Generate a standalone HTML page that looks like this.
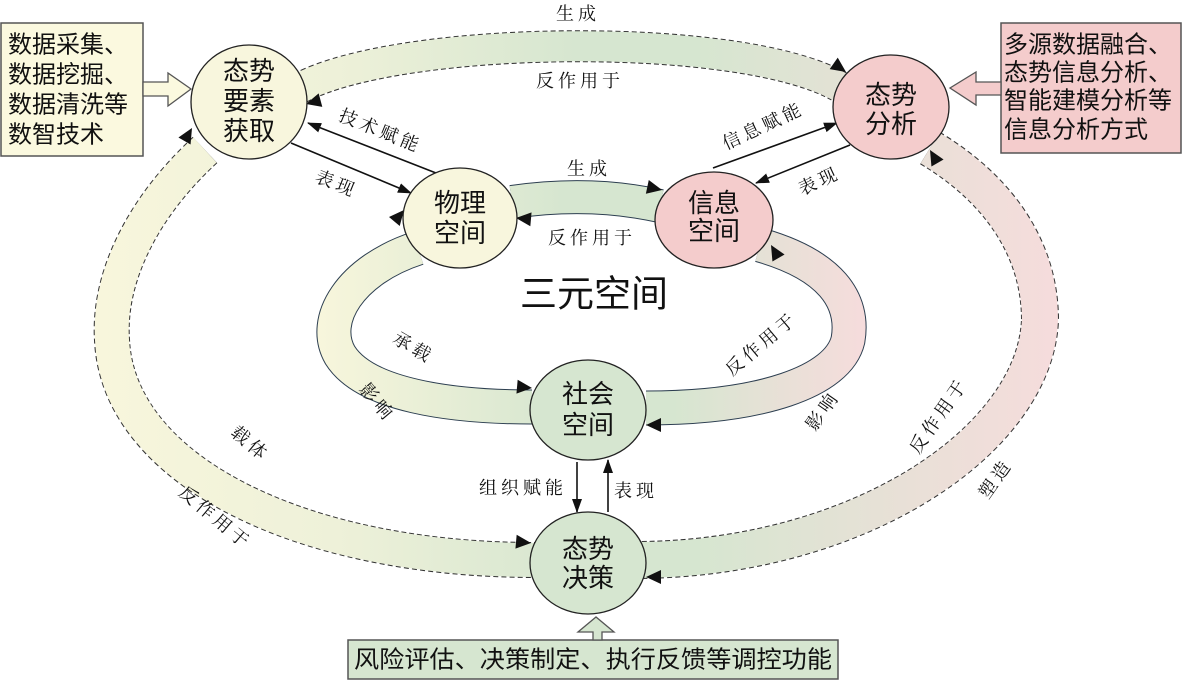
<!DOCTYPE html>
<html><head><meta charset="utf-8"><style>
html,body{margin:0;padding:0;background:#fff;}
svg{display:block;}
text{font-family:"Liberation Sans","Noto Sans CJK SC",sans-serif;fill:#111;}
.c{font-size:26px;text-anchor:middle;dominant-baseline:central;}
.b{font-size:24px;dominant-baseline:central;}
.l{font-size:18px;text-anchor:middle;dominant-baseline:central;letter-spacing:4px;font-family:"Noto Serif CJK SC","Noto Sans CJK SC",serif;}
</style></head><body>
<svg width="1182" height="681" viewBox="0 0 1182 681" xmlns="http://www.w3.org/2000/svg">
<defs>
<linearGradient id="go" gradientUnits="userSpaceOnUse" x1="95" y1="0" x2="1060" y2="0">
<stop offset="0" stop-color="#f8f6dc"/><stop offset="0.25" stop-color="#eef1d9"/><stop offset="0.5" stop-color="#d6e6d0"/><stop offset="0.62" stop-color="#d6e6d0"/><stop offset="1" stop-color="#f6dcdc"/>
</linearGradient>
<linearGradient id="gi" gradientUnits="userSpaceOnUse" x1="316" y1="0" x2="865" y2="0">
<stop offset="0" stop-color="#f8f6dc"/><stop offset="0.45" stop-color="#d6e6d0"/><stop offset="0.65" stop-color="#d6e6d0"/><stop offset="1" stop-color="#f6dcdc"/>
</linearGradient>
<marker id="ar" markerWidth="14" markerHeight="10" refX="13" refY="5" orient="auto" markerUnits="userSpaceOnUse">
<polygon points="0,0 14,5 0,10" fill="#111"/></marker>
</defs>

<g fill="none">
<path d="M 300 88 C 400 35, 740 30, 840 87" stroke="#333" stroke-width="32" stroke-dasharray="5 3"/>
<path d="M 300 88 C 400 35, 740 30, 840 87" stroke="url(#go)" stroke-width="30"/>
<path d="M 205 150 C 140 210, 108 280, 112 340 C 118 470, 300 560, 535 560" stroke="#333" stroke-width="36" stroke-dasharray="5 3"/>
<path d="M 205 150 C 140 210, 108 280, 112 340 C 118 470, 300 560, 535 560" stroke="url(#go)" stroke-width="34"/>
<path d="M 930 148 C 1000 190, 1040 250, 1040 320 C 1035 440, 860 558, 640 560" stroke="#333" stroke-width="38" stroke-dasharray="5 3"/>
<path d="M 930 148 C 1000 190, 1040 250, 1040 320 C 1035 440, 860 558, 640 560" stroke="url(#go)" stroke-width="36"/>
<path d="M 512 202 C 560 195, 610 195, 660 206" stroke="#2c3e50" stroke-width="34"/>
<path d="M 512 202 C 560 195, 610 195, 660 206" stroke="url(#gi)" stroke-width="32"/>
<path d="M 418 248 C 350 270, 320 320, 340 355 C 365 395, 450 407, 532 407" stroke="#2c3e50" stroke-width="35"/>
<path d="M 418 248 C 350 270, 320 320, 340 355 C 365 395, 450 407, 532 407" stroke="url(#gi)" stroke-width="33"/>
<path d="M 760 245 C 830 265, 855 300, 848 340 C 838 382, 760 408, 646 408" stroke="#2c3e50" stroke-width="35"/>
<path d="M 760 245 C 830 265, 855 300, 848 340 C 838 382, 760 408, 646 408" stroke="url(#gi)" stroke-width="33"/>
</g>

<g stroke="#111" stroke-width="1.6" fill="none">
<line x1="436" y1="173" x2="308" y2="123" marker-end="url(#ar)"/>
<line x1="291" y1="143" x2="411" y2="193" marker-end="url(#ar)"/>
<line x1="713" y1="168" x2="837" y2="123" marker-end="url(#ar)"/>
<line x1="850" y1="145" x2="756" y2="183" marker-end="url(#ar)"/>
<line x1="577" y1="462" x2="577" y2="512" marker-end="url(#ar)"/>
<line x1="608" y1="512" x2="608" y2="460" marker-end="url(#ar)"/>
</g>

<g fill="#111">
<polygon points="0,0 -15,-7 -15,7" transform="translate(846,72) rotate(35)"/>
<polygon points="0,0 -15,-7 -15,7" transform="translate(306,104) rotate(165)"/>
<polygon points="0,0 -15,-7 -15,7" transform="translate(192,128) rotate(-60)"/>
<polygon points="0,0 -15,-7 -15,7" transform="translate(531,543) rotate(5)"/>
<polygon points="0,0 -15,-7 -15,7" transform="translate(930,150) rotate(-120)"/>
<polygon points="0,0 -15,-7 -15,7" transform="translate(646,577) rotate(180)"/>
<polygon points="0,0 -15,-7 -15,7" transform="translate(662,190) rotate(12)"/>
<polygon points="0,0 -15,-7 -15,7" transform="translate(516,218) rotate(185)"/>
<polygon points="0,0 -15,-7 -15,7" transform="translate(404,210) rotate(-50)"/>
<polygon points="0,0 -15,-7 -15,7" transform="translate(532,388) rotate(5)"/>
<polygon points="0,0 -15,-7 -15,7" transform="translate(771,245) rotate(-120)"/>
<polygon points="0,0 -15,-7 -15,7" transform="translate(646,425) rotate(180)"/>
</g>

<rect x="1" y="23" width="142" height="133" fill="#fbf9df" stroke="#555" stroke-width="1.5"/>
<polygon points="143,82 168,82 168,73 191,89 168,106 168,96 143,96" fill="#fbf9df" stroke="#555" stroke-width="1.3"/>
<rect x="1001" y="23" width="180" height="130" fill="#f4cccc" stroke="#555" stroke-width="1.5"/>
<polygon points="1001,82 976,82 976,72 950,88 976,105 976,95 1001,95" fill="#f4cccc" stroke="#555" stroke-width="1.3"/>
<rect x="348" y="640" width="490" height="39" fill="#d6e6d0" stroke="#555" stroke-width="1.5"/>
<polygon points="593,640 593,632 578,632 596,617 614,632 602,632 602,640" fill="#d6e6d0" stroke="#555" stroke-width="1.3"/>

<g stroke="#222" stroke-width="1.3">
<ellipse cx="249" cy="102" rx="58" ry="57" fill="#f8f6dd"/>
<ellipse cx="891" cy="107" rx="58" ry="52" fill="#f4cccc"/>
<ellipse cx="460" cy="218" rx="57" ry="50" fill="#f8f6dd"/>
<ellipse cx="714" cy="220" rx="59" ry="48" fill="#f4cccc"/>
<ellipse cx="588" cy="410" rx="58" ry="50" fill="#d6e6d0"/>
<ellipse cx="588" cy="563" rx="58" ry="51" fill="#d6e6d0"/>
</g>

<text class="c" x="249" y="71">态势</text><text class="c" x="249" y="101">要素</text><text class="c" x="249" y="131">获取</text>
<text class="c" x="891" y="95">态势</text><text class="c" x="891" y="124">分析</text>
<text class="c" x="460" y="203">物理</text><text class="c" x="460" y="233">空间</text>
<text class="c" x="714" y="203">信息</text><text class="c" x="714" y="231">空间</text>
<text class="c" x="588" y="394">社会</text><text class="c" x="588" y="425">空间</text>
<text class="c" x="588" y="549">态势</text><text class="c" x="588" y="578">决策</text>

<text class="b" x="8" y="45">数据采集、</text>
<text class="b" x="8" y="75">数据挖掘、</text>
<text class="b" x="8" y="105">数据清洗等</text>
<text class="b" x="8" y="135">数智技术</text>
<text class="b" x="1004" y="45">多源数据融合、</text>
<text class="b" x="1004" y="73">态势信息分析、</text>
<text class="b" x="1004" y="101">智能建模分析等</text>
<text class="b" x="1004" y="130">信息分析方式</text>
<text class="b" x="593" y="660" text-anchor="middle" textLength="478" lengthAdjust="spacingAndGlyphs">风险评估、决策制定、执行反馈等调控功能</text>

<text x="594" y="294" style="font-size:37px;text-anchor:middle;dominant-baseline:central;">三元空间</text>

<text class="l" x="578" y="13">生成</text>
<text class="l" x="580" y="80">反作用于</text>
<text class="l" x="589" y="168">生成</text>
<text class="l" x="592" y="237">反作用于</text>
<text class="l" transform="translate(381,130) rotate(22)">技术赋能</text>
<text class="l" transform="translate(337,183) rotate(22)">表现</text>
<text class="l" transform="translate(763,125) rotate(-25)">信息赋能</text>
<text class="l" transform="translate(819,180) rotate(-25)">表现</text>
<text class="l" x="523" y="487">组织赋能</text>
<text class="l" x="636" y="490">表现</text>
<text class="l" transform="translate(414,347) rotate(30)">承载</text>
<text class="l" transform="translate(378,402) rotate(50)">影响</text>
<text class="l" transform="translate(251,443) rotate(40)">载体</text>
<text class="l" transform="translate(216,517) rotate(40)">反作用于</text>
<text class="l" transform="translate(761,343) rotate(-40)">反作用于</text>
<text class="l" transform="translate(822,410) rotate(-55)">影响</text>
<text class="l" transform="translate(938,415) rotate(-55)">反作用于</text>
<text class="l" transform="translate(995,478) rotate(-55)">塑造</text>
</svg>
</body></html>
